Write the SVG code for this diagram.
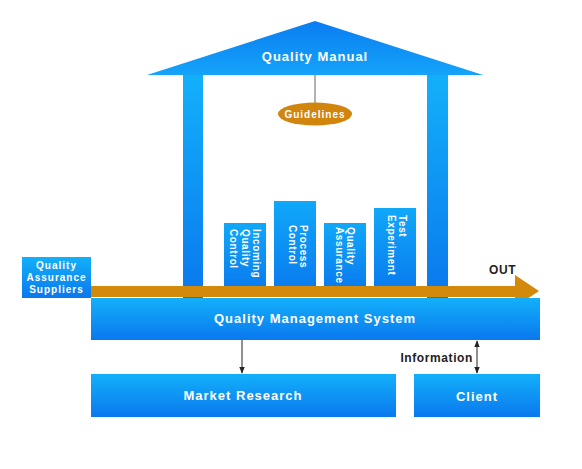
<svg xmlns="http://www.w3.org/2000/svg" width="582" height="469" viewBox="0 0 582 469">
<defs>
<linearGradient id="gBox" x1="0" y1="0" x2="0" y2="1">
<stop offset="0" stop-color="#13B0FA"/>
<stop offset="1" stop-color="#0A78EE"/>
</linearGradient>
<linearGradient id="gRoof" x1="0" y1="0" x2="0" y2="1">
<stop offset="0" stop-color="#0A7CF2"/>
<stop offset="1" stop-color="#14A4F9"/>
</linearGradient>
<linearGradient id="gBar" x1="0" y1="0" x2="0" y2="1">
<stop offset="0" stop-color="#10A8F9"/>
<stop offset="1" stop-color="#0A7CEF"/>
</linearGradient>
<marker id="ah" viewBox="0 0 10 10" refX="9" refY="5" markerWidth="7" markerHeight="7" orient="auto-start-reverse" markerUnits="userSpaceOnUse">
<path d="M0,1 L10,5 L0,9 z" fill="#222"/>
</marker>
</defs>
<style>
.box{fill:url(#gBox);}
.bar{fill:url(#gBar);}
.t{font-family:"Liberation Sans",Arial,sans-serif;font-weight:bold;fill:#fff;letter-spacing:1px;}
.v{font-family:"Liberation Sans",Arial,sans-serif;font-weight:bold;fill:#fff;letter-spacing:0.6px;font-size:10px;}
.d{font-family:"Liberation Sans",Arial,sans-serif;font-weight:bold;fill:#222;letter-spacing:0.6px;}
.c{stroke:#222;stroke-width:1;fill:none;}
</style>
<rect width="582" height="469" fill="#fff"/>

<g id="pillars">
<rect x="183" y="75" width="20" height="223" class="box"/>
<rect x="427" y="75" width="21" height="223" class="box"/>
</g>

<g id="roof">
<polygon points="315,21 147,75 483,75" fill="url(#gRoof)"/>
<text x="315" y="61" class="t" font-size="13" text-anchor="middle">Quality Manual</text>
</g>

<g id="connectors">
<line x1="315" y1="75" x2="315" y2="103" stroke="#999" stroke-width="1.5"/>
<line x1="242" y1="340" x2="242" y2="373" class="c" marker-end="url(#ah)"/>
<line x1="477" y1="341" x2="477" y2="373" class="c" marker-start="url(#ah)" marker-end="url(#ah)"/>
</g>

<g id="guidelines">
<ellipse cx="315" cy="114" rx="37" ry="11.5" fill="#D1850C"/>
<text x="315" y="118" class="t" font-size="10" text-anchor="middle" letter-spacing="0.4">Guidelines</text>
</g>

<g id="bar-incoming">
<rect x="224" y="223" width="42" height="64" class="bar"/>
<text class="v" transform="translate(253,229) rotate(90)"><tspan x="0" y="0">Incoming</tspan><tspan x="0" y="11.5">Quality</tspan><tspan x="0" y="23">Control</tspan></text>
</g>
<g id="bar-process">
<rect x="274" y="201" width="42" height="86" class="bar"/>
<text class="v" transform="translate(300,225) rotate(90)"><tspan x="0" y="0">Process</tspan><tspan x="0" y="11.5">Control</tspan></text>
</g>
<g id="bar-assurance">
<rect x="324" y="223" width="42" height="64" class="bar"/>
<text class="v" transform="translate(347,227) rotate(90)"><tspan x="0" y="0">Quality</tspan><tspan x="0" y="11.5">Assurance</tspan></text>
</g>
<g id="bar-test">
<rect x="374" y="208" width="42" height="79" class="bar"/>
<text class="v" transform="translate(399,215) rotate(90)"><tspan x="0" y="0">Test</tspan><tspan x="0" y="11.5">Experiment</tspan></text>
</g>

<g id="suppliers">
<rect x="22" y="257" width="69" height="41" class="box"/>
<text class="t" font-size="10" text-anchor="middle" letter-spacing="0.6"><tspan x="56.5" y="269">Quality</tspan><tspan x="56.5" y="281">Assurance</tspan><tspan x="56.5" y="293">Suppliers</tspan></text>
</g>

<g id="out-arrow">
<polygon points="91,286 515,286 515,275 539,291 515,307 515,297 91,297" fill="#D3890A"/>
<text x="489" y="274" class="d" font-size="12">OUT</text>
</g>

<g id="qms">
<rect x="91" y="298" width="449" height="42" class="box"/>
<text x="315" y="323" class="t" font-size="13" text-anchor="middle">Quality Management System</text>
</g>

<g id="market-research">
<rect x="91" y="374" width="305" height="43" class="box"/>
<text x="243" y="400" class="t" font-size="13" text-anchor="middle">Market Research</text>
</g>

<g id="client">
<rect x="414" y="374" width="126" height="43" class="box"/>
<text x="477" y="401" class="t" font-size="13" text-anchor="middle">Client</text>
</g>

<text x="473" y="362" class="d" font-size="12" text-anchor="end">Information</text>
</svg>
